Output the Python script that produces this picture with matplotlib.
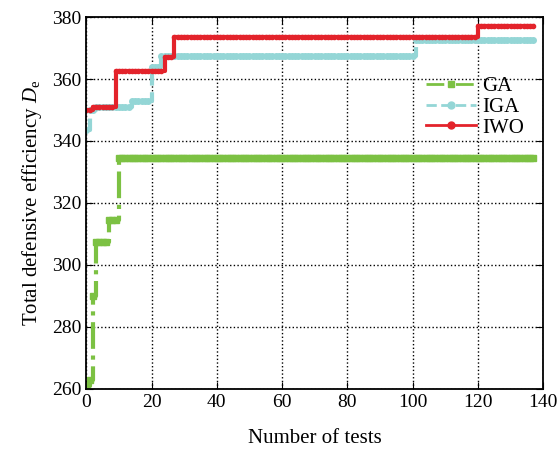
import numpy as np
import matplotlib
matplotlib.use('Agg')
import matplotlib.pyplot as plt
from matplotlib.lines import Line2D

plt.rcParams['font.family'] = ['Liberation Serif', 'DejaVu Serif']
plt.rcParams['mathtext.fontset'] = 'custom'
plt.rcParams['mathtext.rm'] = 'Liberation Serif'
plt.rcParams['mathtext.it'] = 'Liberation Serif:italic'

# step points: (test index where value starts, value)
ga_start = [0, 1, 2, 3, 7, 10]
ga_value = [261, 263, 290, 307.5, 314.5, 334.5]
iga_start = [0, 1, 3, 14, 20, 23, 101]
iga_value = [343.5, 350, 351, 353, 364, 367.5, 372.5]
iwo_start = [0, 2, 9, 24, 27, 120]
iwo_value = [350, 351, 362.5, 367, 373.5, 377]
n_tests = 138
labels = ['GA', 'IGA', 'IWO']

tests = np.arange(n_tests)


def expand(starts, values):
    idx = np.searchsorted(starts, tests, side='right') - 1
    return np.asarray(values)[idx]


colors = ['#7cc143', '#94d6d6', '#e3232b']
styles = ['-.', '--', '-']
markers = ['s', 'o', 'o']

fig = plt.figure(figsize=(5.6, 4.49), dpi=100)
ax = fig.add_axes([0.154, 0.134, 0.816, 0.828])

series = [expand(ga_start, ga_value), expand(iga_start, iga_value), expand(iwo_start, iwo_value)]
for ys, c, ls, m in zip(series, colors, styles, markers):
    ax.plot(tests, ys, color=c, linestyle=ls, linewidth=3, marker=m,
            markersize=3 if c == '#e3232b' else 4, drawstyle='steps-post')

ax.set_xlim(0, 140)
ax.set_ylim(260, 380)
ax.set_xticks(np.arange(0, 141, 20))
ax.set_yticks(np.arange(260, 381, 20))
ax.tick_params(direction='in', top=True, right=True, labelsize=14, length=5)
ax.grid(True, color='black', linestyle=':', linewidth=1.0)
for s in ax.spines.values():
    s.set_linewidth(1.3)

ax.set_xlabel('Number of tests', fontsize=15, labelpad=13)
ax.set_ylabel('Total defensive efficiency $D_{\\mathrm{e}}$', fontsize=15, labelpad=6)

# legend keys are drawn thinner than the curves, one marker each
handles = [Line2D([], [], color=c, linestyle=ls, linewidth=2, marker=m, markersize=5)
           for c, ls, m in zip(colors, styles, markers)]
ax.legend(handles, labels, loc='upper right', bbox_to_anchor=(1.0, 0.89), frameon=False,
          fontsize=15, handlelength=2.4, labelspacing=0.05, handletextpad=0.3, numpoints=1)

fig.savefig('out.png', dpi=100)
